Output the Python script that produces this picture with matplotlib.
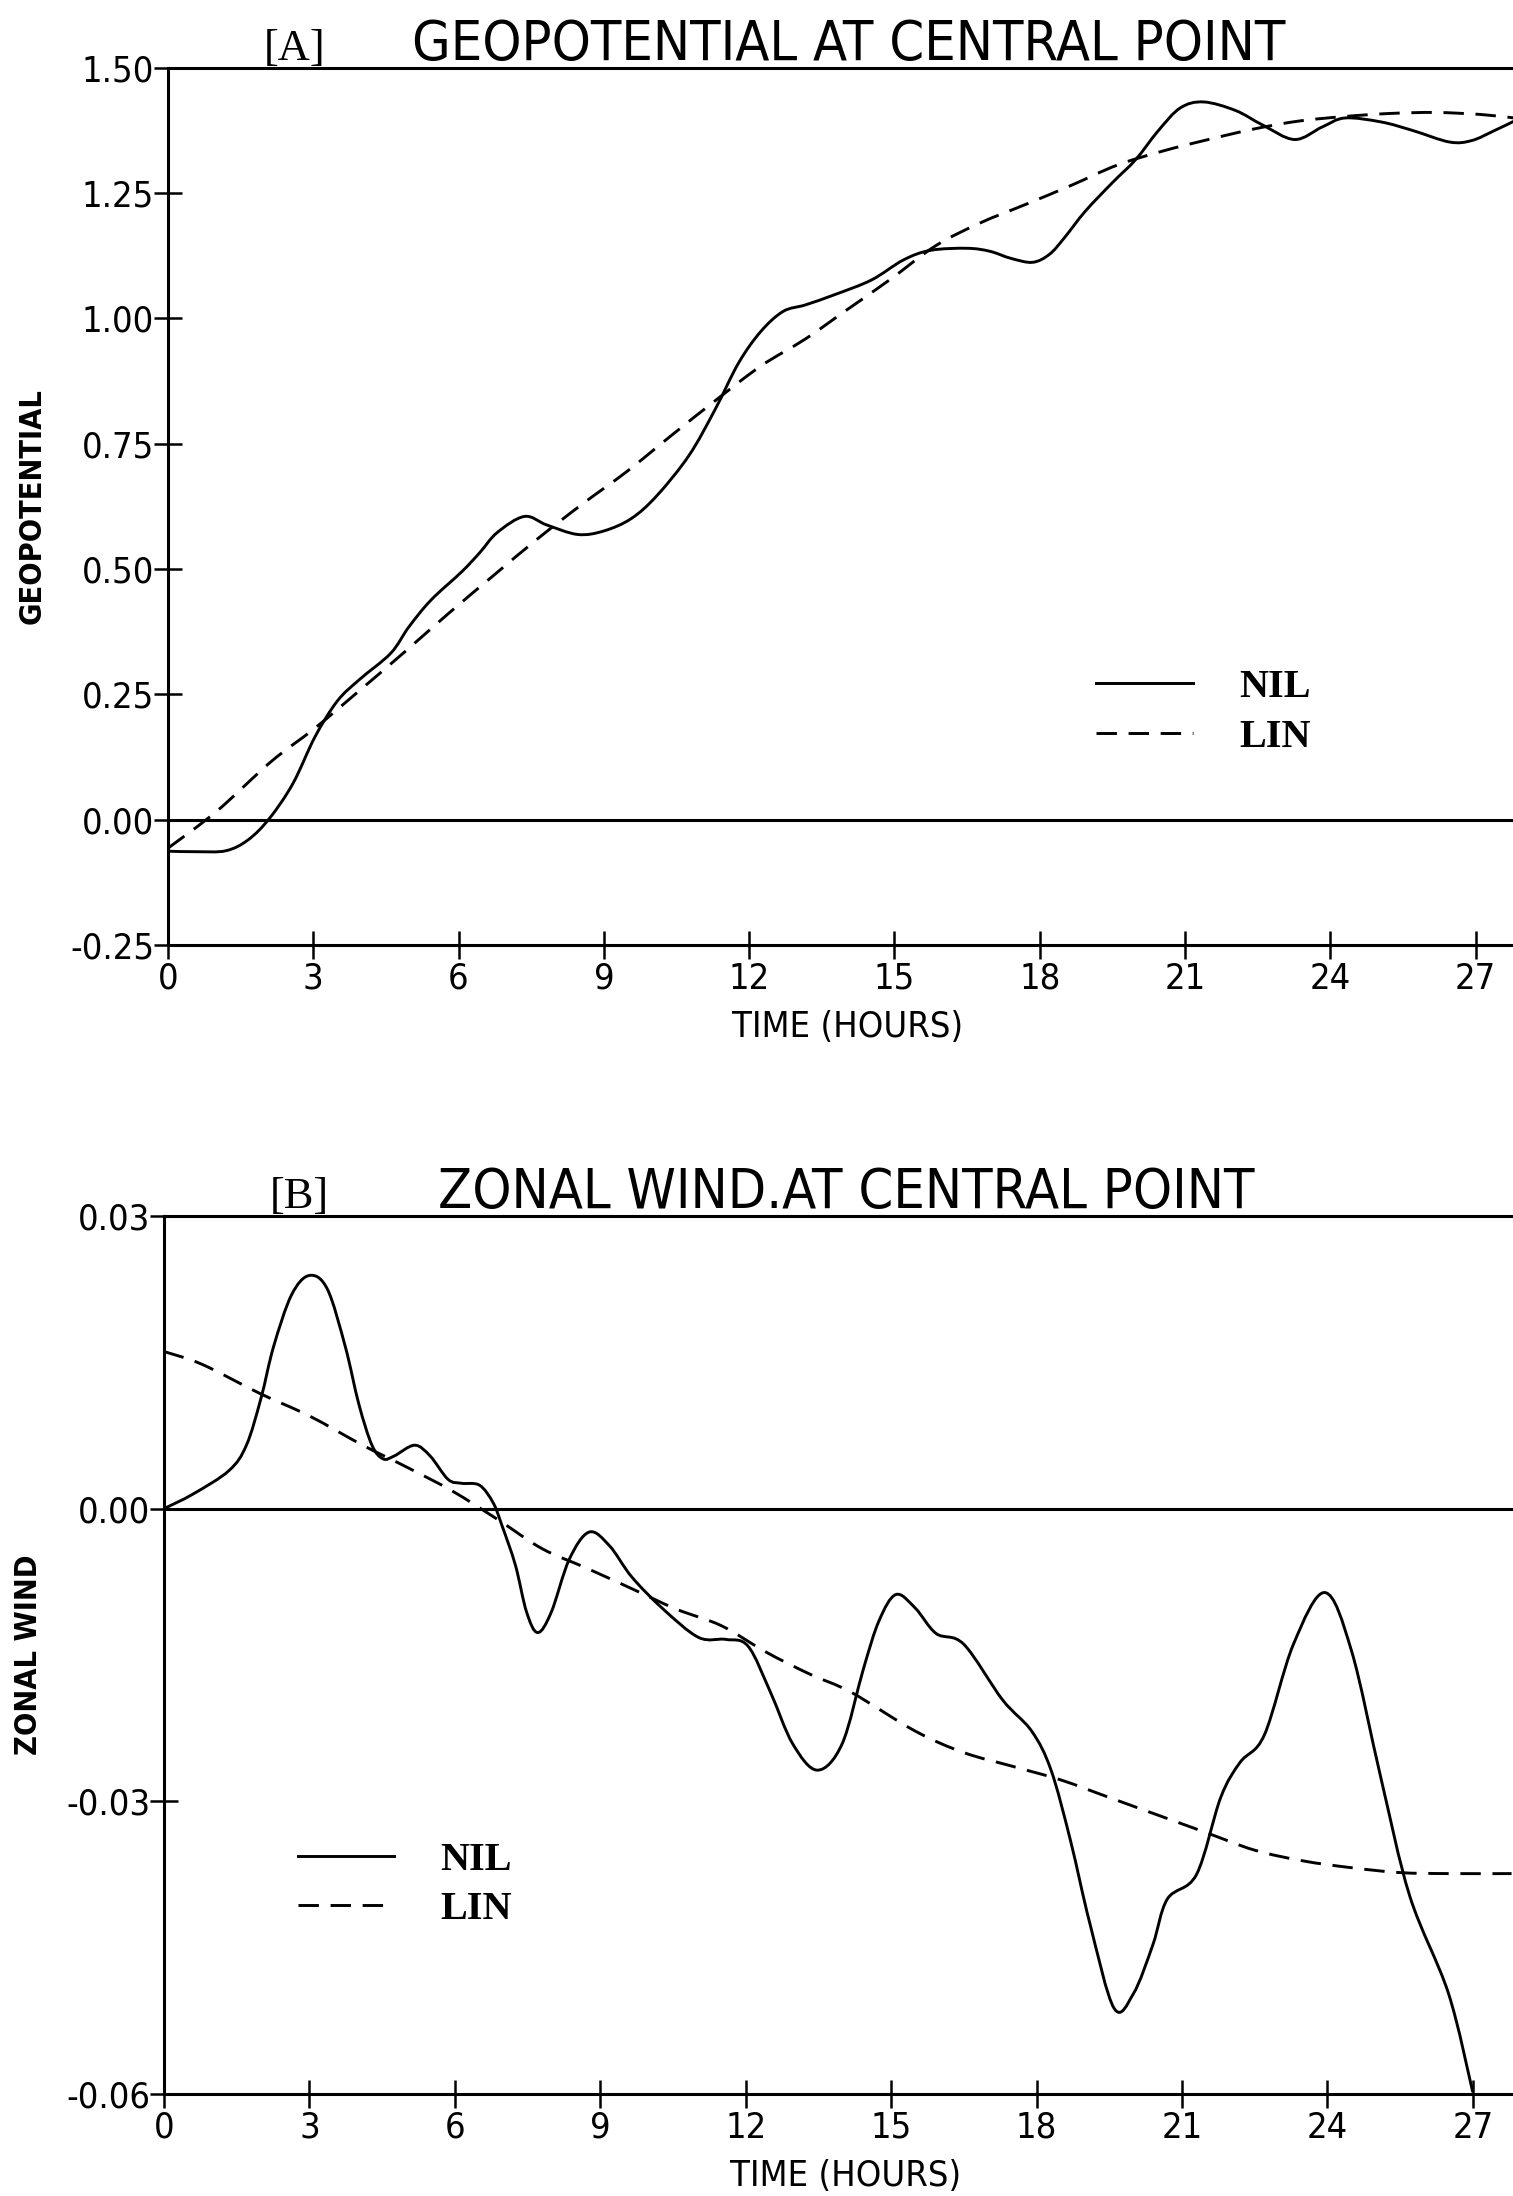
import matplotlib
matplotlib.use('Agg')
import matplotlib.pyplot as plt
from matplotlib.path import Path
from matplotlib.patches import PathPatch
from matplotlib.lines import Line2D

plt.rcParams['axes.unicode_minus'] = False

# panel A: geopotential at central point
geo_nil_t = [0, 0.6, 1.2, 1.66, 2.1, 2.58, 3.04, 3.5, 3.96, 4.6, 4.97, 5.43, 6.07, 6.44,
             6.8, 7.36, 7.82, 8.46, 9.0, 9.57, 10.1, 10.76, 11.3, 11.78, 12.24, 12.7,
             13.16, 13.78, 14.53, 15.19, 15.75, 16.5, 16.97, 17.4, 17.85, 18.2, 18.5,
             18.94, 19.5, 19.98, 20.45, 20.9, 21.38, 22.04, 22.6, 23.26, 23.83, 24.3,
             25.05, 25.7, 26.46, 26.92, 27.39, 27.8]
geo_nil = [-0.063, -0.064, -0.062, -0.04, 0.003, 0.072, 0.166, 0.237, 0.28, 0.332, 0.384,
           0.438, 0.495, 0.533, 0.573, 0.605, 0.588, 0.569, 0.576, 0.601, 0.647, 0.727,
           0.819, 0.911, 0.974, 1.014, 1.027, 1.048, 1.077, 1.117, 1.136, 1.14, 1.134,
           1.12, 1.112, 1.128, 1.16, 1.214, 1.271, 1.317, 1.375, 1.42, 1.432, 1.415,
           1.386, 1.357, 1.382, 1.4, 1.392, 1.375, 1.352, 1.355, 1.375, 1.394]
geo_lin_t = [0, 1.01, 2.12, 3.04, 3.96, 4.88, 5.8, 6.72, 7.64, 8.56, 9.48, 10.4, 11.3,
             12.24, 13.16, 13.97, 14.9, 15.85, 16.78, 17.72, 18.66, 19.6, 20.54, 21.48,
             22.42, 23.36, 24.3, 25.23, 26.17, 27.1, 27.8]
geo_lin = [-0.057, 0.017, 0.115, 0.183, 0.258, 0.334, 0.412, 0.487, 0.561, 0.63, 0.695,
           0.767, 0.836, 0.905, 0.959, 1.014, 1.077, 1.145, 1.191, 1.228, 1.266, 1.306,
           1.334, 1.357, 1.378, 1.394, 1.403, 1.409, 1.411, 1.407, 1.4]

# panel B: zonal wind at central point
wind_nil_t = [0, 0.6, 1.34, 1.7, 2.0, 2.26, 2.63, 3.0, 3.37, 3.74, 4.02, 4.29, 4.52, 4.75,
              5.17, 5.49, 5.86, 6.14, 6.51, 6.79, 6.97, 7.25, 7.48, 7.71, 7.99, 8.36,
              8.77, 9.19, 9.65, 10.3, 11.03, 11.59, 12.05, 12.51, 12.97, 13.48, 13.99,
              14.43, 14.75, 15.1, 15.5, 15.93, 16.5, 17.3, 17.9, 18.3, 18.7, 19.1, 19.6,
              20.0, 20.4, 20.7, 21.3, 21.8, 22.2, 22.7, 23.3, 23.95, 24.5, 25.1, 25.7,
              26.5, 27.0]
wind_nil = [0.0, 0.0015, 0.0039, 0.0065, 0.0113, 0.0166, 0.0219, 0.0239, 0.0225, 0.0166,
            0.0107, 0.0065, 0.0051, 0.0054, 0.0065, 0.0054, 0.003, 0.0026, 0.0024, 0.0006,
            -0.0017, -0.0058, -0.0106, -0.0127, -0.0106, -0.0052, -0.0024, -0.0038,
            -0.007, -0.0103, -0.0132, -0.0134, -0.0141, -0.0188, -0.0241, -0.0268,
            -0.0241, -0.0164, -0.0115, -0.0088, -0.0102, -0.0128, -0.0139, -0.0196,
            -0.0228, -0.0268, -0.034, -0.0425, -0.0512, -0.0497, -0.0447, -0.04, -0.0375,
            -0.0296, -0.026, -0.0232, -0.0139, -0.0086, -0.0146, -0.0275, -0.0397,
            -0.0497, -0.0598]
wind_lin_t = [0, 0.78, 1.98, 3.0, 4.1, 5.03, 5.95, 6.88, 7.8, 8.72, 9.65, 10.57, 11.5,
              12.42, 13.34, 14.17, 15.5, 16.5, 17.5, 18.5, 19.5, 20.5, 21.5, 22.5, 23.5,
              24.5, 25.5, 26.5, 27.8]
wind_lin = [0.0161, 0.0148, 0.0118, 0.0095, 0.0065, 0.0042, 0.0018, -0.0011, -0.0041,
            -0.0061, -0.0082, -0.0103, -0.012, -0.0147, -0.017, -0.0188, -0.0228, -0.025,
            -0.0264, -0.0278, -0.0296, -0.0314, -0.0332, -0.035, -0.0361, -0.0368,
            -0.0373, -0.0374, -0.0374]

hour_ticks = [0, 3, 6, 9, 12, 15, 18, 21, 24, 27]
geo_ticks = [-0.25, 0.0, 0.25, 0.5, 0.75, 1.0, 1.25, 1.5]
wind_ticks = [-0.06, -0.03, 0.0, 0.03]

sans = dict(family='DejaVu Sans', stretch='condensed')
serif = dict(family='Liberation Serif')
dash = (0, (7, 4))


def curve(t, y):
    # smooth bezier path through the read points (catmull-rom tangents)
    n = len(t)
    verts = [(t[0], y[0])]
    codes = [Path.MOVETO]
    for i in range(n - 1):
        a, b = max(i - 1, 0), min(i + 2, n - 1)
        c1 = (t[i] + (t[i + 1] - t[a]) / 6, y[i] + (y[i + 1] - y[a]) / 6)
        c2 = (t[i + 1] - (t[b] - t[i]) / 6, y[i + 1] - (y[b] - y[i]) / 6)
        verts += [c1, c2, (t[i + 1], y[i + 1])]
        codes += [Path.CURVE4] * 3
    return Path(verts, codes)


def panel(ax, tag, title, ylabel, t1, y1, t2, y2, yticks, ylim, xmax, leg_xy, tag_x):
    ax.add_patch(PathPatch(curve(t1, y1), fill=False, ec='k', lw=2.1))
    ax.add_patch(PathPatch(curve(t2, y2), fill=False, ec='k', lw=2.1, ls=dash))
    ax.axhline(0, color='k', lw=2.2)
    ax.set_xlim(0, xmax)
    ax.set_ylim(*ylim)
    ax.set_xticks(hour_ticks)
    ax.set_yticks(yticks)
    ax.set_yticklabels(['%.2f' % v for v in yticks], fontsize=26, **sans)
    ax.set_xticklabels([str(h) for h in hour_ticks], fontsize=26, **sans)
    ax.tick_params(direction='inout', length=20, width=1.8, pad=2)
    ax.tick_params(axis='y', pad=0)
    ax.spines['right'].set_visible(False)
    for s in ['left', 'top', 'bottom']:
        ax.spines[s].set_linewidth(2.2)
    ax.set_xlabel('TIME (HOURS)', fontsize=26, **sans)
    ax.xaxis.set_label_coords(0.505, -0.074)
    ax.set_ylabel(ylabel, fontsize=22, fontweight='bold', **sans)
    ax.yaxis.set_label_coords(-0.09, 0.5)
    ax.text(tag_x, 1.009, tag, transform=ax.transAxes, ha='center', va='baseline',
            fontsize=32, **serif)
    ax.text(0.506, 1.009, title, transform=ax.transAxes, ha='center', va='baseline',
            fontsize=40, **sans)
    handles = [Line2D([], [], color='k', lw=2.1, ls='-'),
               Line2D([], [], color='k', lw=2.1, ls=dash)]
    ax.legend(handles, ['NIL', 'LIN'], loc='center left', bbox_to_anchor=leg_xy,
              frameon=False, prop=dict(family='Liberation Serif', weight='bold', size=29),
              handlelength=2.4, handletextpad=1.15, labelspacing=0.3,
              borderpad=0, borderaxespad=0)


fig = plt.figure(figsize=(15.13, 21.96), dpi=100)
ax1 = fig.add_axes([0.111, 0.5697, 0.889, 0.3994])
ax2 = fig.add_axes([0.1084, 0.0464, 0.8916, 0.3999])

panel(ax1, '[A]', 'GEOPOTENTIAL AT CENTRAL POINT', 'GEOPOTENTIAL',
      geo_nil_t, geo_nil, geo_lin_t, geo_lin, geo_ticks, (-0.25, 1.5), 27.77,
      (0.69, 0.265), 0.094)
panel(ax2, '[B]', 'ZONAL WIND.AT CENTRAL POINT', 'ZONAL WIND',
      wind_nil_t, wind_nil, wind_lin_t, wind_lin, wind_ticks, (-0.06, 0.03), 27.83,
      (0.099, 0.238), 0.100)

fig.savefig('out.png', dpi=100, facecolor='white')
